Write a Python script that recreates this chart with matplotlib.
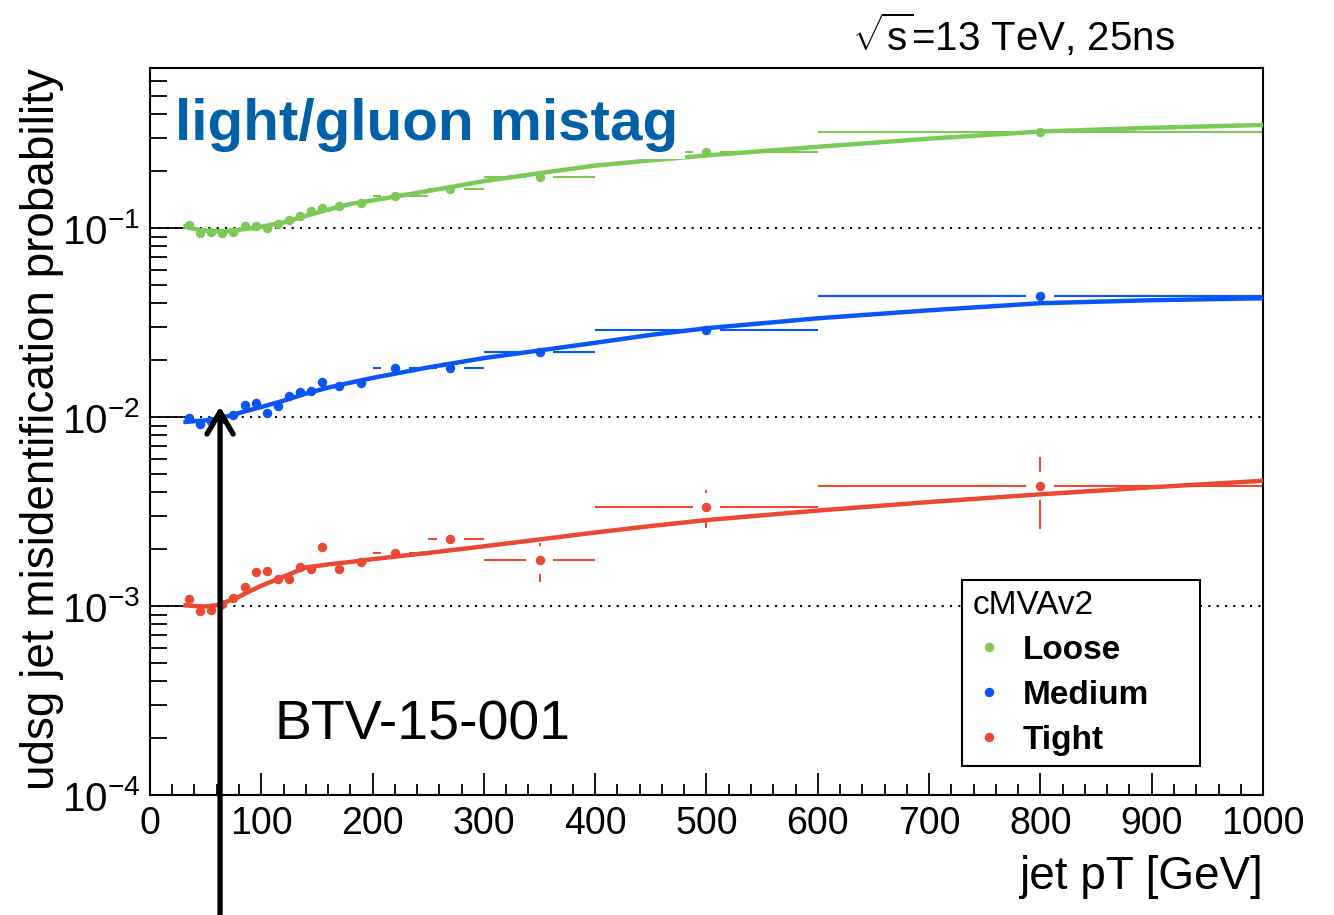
import numpy as np
import matplotlib
matplotlib.use('Agg')
import matplotlib.pyplot as plt
from matplotlib.ticker import MultipleLocator, LogLocator, NullFormatter

plt.rcParams['font.family'] = ['Liberation Sans', 'DejaVu Sans']
plt.rcParams['mathtext.fontset'] = 'custom'
plt.rcParams['mathtext.rm'] = 'Liberation Sans'
plt.rcParams['mathtext.it'] = 'Liberation Sans:italic'
plt.rcParams['mathtext.bf'] = 'Liberation Sans:bold'

# bins in jet pT (GeV)
pt = [35, 45, 55, 65, 75, 85, 95, 105, 115, 125, 135, 145, 155, 170, 190, 220, 270, 350, 500, 800]
pt_lo = [30, 40, 50, 60, 70, 80, 90, 100, 110, 120, 130, 140, 150, 160, 180, 200, 250, 300, 400, 600]
pt_hi = [40, 50, 60, 70, 80, 90, 100, 110, 120, 130, 140, 150, 160, 180, 200, 250, 300, 400, 600, 1000]

loose = [0.1037, 0.0944, 0.095, 0.0944, 0.095, 0.103, 0.1025, 0.100, 0.105, 0.110,
         0.116, 0.1225, 0.1276, 0.131, 0.135, 0.148, 0.161, 0.187, 0.251, 0.321]
loose_err = [0.002, 0.002, 0.002, 0.002, 0.002, 0.002, 0.002, 0.002, 0.002, 0.002,
             0.002, 0.002, 0.002, 0.002, 0.002, 0.002, 0.003, 0.004, 0.006, 0.01]
medium = [0.00985, 0.00918, 0.0095, 0.0098, 0.01025, 0.01157, 0.0118, 0.01054, 0.01147, 0.01297,
          0.01361, 0.01377, 0.01526, 0.0146, 0.0152, 0.01811, 0.01823, 0.0222, 0.0288, 0.0436]
medium_err = [0.0003, 0.0003, 0.0003, 0.0003, 0.0003, 0.0003, 0.0003, 0.0003, 0.0003, 0.0004,
              0.0004, 0.0004, 0.0004, 0.0004, 0.0004, 0.0005, 0.0006, 0.0008, 0.0012, 0.0025]
tight = [0.001084, 0.000944, 0.000953, 0.001025, 0.0011, 0.001256, 0.00152, 0.00153, 0.001384, 0.001384,
         0.001615, 0.001564, 0.00206, 0.00157, 0.001716, 0.001914, 0.00226, 0.00175, 0.00335, 0.00434]
tight_err = [0.00006, 0.00006, 0.00006, 0.00006, 0.00007, 0.00008, 0.00009, 0.0001, 0.0001, 0.0001,
             0.00011, 0.00012, 0.00013, 0.00012, 0.00014, 0.00018, 0.00025, 0.00041, 0.00076, 0.00177]

# fitted curves
fit_pt = [30, 40, 50, 60, 70, 80, 90, 100, 120, 140, 160, 180, 200, 250, 300, 350, 400, 450, 500, 600, 700, 800, 900, 1000]
loose_fit = [0.1025, 0.099, 0.0968, 0.0962, 0.0966, 0.0978, 0.0995, 0.1016, 0.107, 0.116, 0.125, 0.134,
             0.140, 0.157, 0.177, 0.195, 0.214, 0.228, 0.242, 0.269, 0.297, 0.324, 0.339, 0.351]
medium_fit = [0.0094, 0.0095, 0.0096, 0.0098, 0.0101, 0.0105, 0.0109, 0.0113, 0.0122, 0.0133, 0.0143, 0.0152,
              0.0161, 0.0183, 0.0205, 0.0225, 0.0247, 0.0272, 0.0295, 0.0333, 0.0367, 0.0400, 0.0415, 0.0425]
tight_fit = [0.00101, 0.001, 0.000995, 0.00101, 0.00106, 0.00112, 0.0012, 0.00128, 0.00143, 0.0016, 0.00166, 0.00171,
             0.00177, 0.00191, 0.00207, 0.00225, 0.00245, 0.00265, 0.00285, 0.0032, 0.00355, 0.0039, 0.00425, 0.0046]

arrow_pt = 63
arrow_tip = 0.01135

series = [
    ('Loose', loose, loose_err, loose_fit, '#7cc957'),
    ('Medium', medium, medium_err, medium_fit, '#0a55f5'),
    ('Tight', tight, tight_err, tight_fit, '#ea4a34'),
]

fig = plt.figure(figsize=(13.34, 9.15), dpi=100)
ax = fig.add_axes([0.1124, 0.1311, 0.8344, 0.7946])

gap_x = 12.5            # GeV, gap around marker for x error bars
gap_f = 10 ** 0.074     # factor, gap around marker for y error bars

x = np.array(pt, dtype=float)
lo = np.array(pt_lo, dtype=float)
hi = np.array(pt_hi, dtype=float)

for name, vals, err, fit, col in series:
    v = np.array(vals)
    e = np.array(err)
    m = lo < x - gap_x
    ax.hlines(v[m], lo[m], (x - gap_x)[m], color=col, lw=1.5, zorder=2)
    m = hi > x + gap_x
    ax.hlines(v[m], (x + gap_x)[m], hi[m], color=col, lw=1.5, zorder=2)
    m = v + e > v * gap_f
    ax.vlines(x[m], (v * gap_f)[m], (v + e)[m], color=col, lw=1.5, zorder=2)
    m = v - e < v / gap_f
    ax.vlines(x[m], (v - e)[m], (v / gap_f)[m], color=col, lw=1.5, zorder=2)
    ax.plot(x, v, 'o', ms=5.8, color=col, label=name, zorder=3)
    ax.plot(fit_pt, fit, '-', color=col, lw=3.2, zorder=4, solid_capstyle='butt')

ax.set_yscale('log')
ax.set_xlim(0, 1000)
ax.set_ylim(1e-4, 0.7026)

ax.xaxis.set_major_locator(MultipleLocator(100))
ax.xaxis.set_minor_locator(MultipleLocator(20))
ax.yaxis.set_major_locator(LogLocator(base=10))
ax.yaxis.set_minor_locator(LogLocator(base=10, subs=np.arange(2, 10)))
ax.yaxis.set_minor_formatter(NullFormatter())

ax.tick_params(axis='both', which='both', direction='in', top=False, right=False, width=1.3)
ax.tick_params(axis='x', which='major', length=15.8, labelsize=27, pad=8)
ax.tick_params(axis='x', which='minor', length=7.9)
ax.tick_params(axis='y', which='major', length=24, labelsize=29, pad=7)
ax.tick_params(axis='y', which='minor', length=12)
for s in ax.spines.values():
    s.set_linewidth(1.5)

ax.yaxis.grid(True, which='major', linestyle=(0, (1, 3)), color='k', lw=1.5)
ax.set_axisbelow(True)

ax.set_xlabel('jet pT [GeV]', fontsize=33, loc='right')
ax.xaxis.set_label_coords(1.0, -0.083)
ax.set_ylabel('udsg jet misidentification probability', fontsize=33, loc='top')
ax.yaxis.set_label_coords(-0.077, 1.0)

ax.text(0.0225, 0.901, 'light/gluon mistag', transform=ax.transAxes, fontsize=42,
        fontweight='bold', color='#0061a8', va='baseline', zorder=6,
        bbox=dict(boxstyle='square,pad=0.12', fc='white', ec='none'))
ax.text(0.1123, 0.096, 'BTV-15-001', transform=ax.transAxes, fontsize=40, va='center')
fig.text(0.6387, 0.9617, r'$\sqrt{\mathrm{s}}$=13 TeV, 25ns', fontsize=29, va='center')

ax.annotate('', xy=(arrow_pt, arrow_tip), xycoords='data',
            xytext=(arrow_pt, 0.0), textcoords=('data', 'figure fraction'),
            arrowprops=dict(arrowstyle='->,head_length=16,head_width=9.4', mutation_scale=1,
                            lw=3.8, color='k', shrinkA=0, shrinkB=0),
            annotation_clip=False, zorder=7)

leg = ax.legend(loc='lower left', bbox_to_anchor=(0.730, 0.040, 0.213, 0.261), mode='expand',
                title='cMVAv2', title_fontsize=24, prop={'weight': 'bold', 'size': 24},
                frameon=True, fancybox=False, edgecolor='k', framealpha=1,
                borderaxespad=0, handlelength=1.0, handletextpad=0.5, labelspacing=0.42,
                borderpad=0.3, alignment='left')
leg.get_frame().set_linewidth(1.5)
leg.set_zorder(8)

fig.savefig('out.png', dpi=100)
